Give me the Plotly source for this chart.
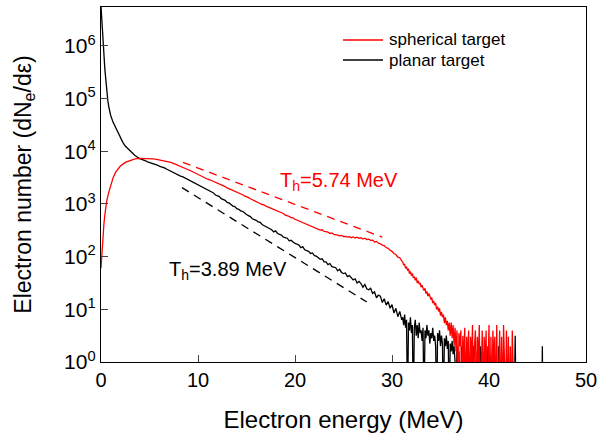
import numpy as np
import plotly.graph_objects as go

# ---------------- data (log10 of electron number) -------------
# planar target (black)
black_head_x = [0.0, 0.1, 0.2, 0.3, 0.4, 0.5, 0.6, 0.7, 0.8, 1.0, 1.25, 1.5, 1.75, 2.0,
                2.25, 2.5, 3.0, 3.5, 4.0]
black_head_lg = [6.75, 6.5, 6.25, 5.85, 5.55, 5.3, 5.12, 4.97, 4.85, 4.68, 4.55, 4.45, 4.35,
                 4.25, 4.17, 4.1, 4.0, 3.92, 3.86]
black_mid_start, black_mid_step = 4.2, 0.2
black_mid_lg = [
    3.85, 3.83, 3.82, 3.80, 3.79, 3.78, 3.76, 3.75, 3.74, 3.72,
    3.71, 3.69, 3.68, 3.66, 3.64, 3.62, 3.61, 3.59, 3.57, 3.55,
    3.53, 3.52, 3.50, 3.48, 3.46, 3.45, 3.42, 3.41, 3.39, 3.36,
    3.35, 3.33, 3.30, 3.29, 3.27, 3.24, 3.23, 3.21, 3.17, 3.16,
    3.14, 3.10, 3.09, 3.07, 3.03, 3.02, 2.99, 2.96, 2.95, 2.91,
    2.90, 2.87, 2.86, 2.82, 2.80, 2.78, 2.76, 2.72, 2.71, 2.69,
    2.66, 2.65, 2.61, 2.59, 2.58, 2.55, 2.54, 2.51, 2.47, 2.49,
    2.44, 2.42, 2.41, 2.37, 2.36, 2.35, 2.30, 2.31, 2.28, 2.25,
    2.24, 2.22, 2.17, 2.19, 2.13, 2.12, 2.10, 2.06, 2.07, 2.02,
    2.01, 1.98, 1.95, 1.96, 1.90, 1.90, 1.85, 1.87, 1.81, 1.80,
    1.79, 1.73, 1.76, 1.70, 1.68, 1.69, 1.62, 1.64, 1.59, 1.56,
    1.58, 1.50, 1.53, 1.49, 1.42, 1.47, 1.39, 1.37, 1.40, 1.30,
    1.33, 1.22, 1.27, 1.25, 1.13, 1.20, 1.08, 1.15, 1.02, 1.09,
    0.93, 1.02, 0.86, 0.96, 0.80,
]
black_tail_start, black_tail_step = 31.1, 0.1
black_tail_lg = [
    0.85, 0.7, 0.9, 0.65, 0.8, -1, 0.75, 0.6, 0.85, 0.55,
    0.7, -1, 0.65, 0.8, 0.5, 0.7, 0.45, 0.75, 0.55, 0.6,
    0.4, 0.65, -1, 0.6, 0.45, 0.7, 0.5, 0.6, 0.35, 0.55,
    0.45, 0.65, 0.4, 0.5, 0.3, -1, 0.55, 0.4, 0.6, 0.3,
    0.5, 0.35, -1, 0.45, 0.3, 0.5, 0.25, 0.4, -1, 0.35,
    0.2, 0.4, 0.15, 0.3, 0.0, -1, 0.3, 0.0, 0.2, -1,
    0.0, 0.3, -1, 0.0, 0.2, -1, 0.3, 0.0, -1, 0.0,
    0.2, -1, 0.0, 0.3, -1, 0.0, -1, 0.2, 0.0, -1,
    0.3, -1, 0.0, -1, 0.2, 0.0, -1, 0.0, 0.3, -1,
    0.0, -1, 0.0, 0.2, -1, 0.0, -1, 0.0, -1, 0.3,
    -1, 0.0, -1, 0.0, 0.2, -1, 0.0, -1, 0.0, -1,
    0.0, -1, 0.0, -1, 0.0, -1, 0.5, -1, -1, -1,
]
black_spike_x = [45.45, 45.5, 45.55]
black_spike_lg = [-1, 0.3, -1]

# spherical target (red)
red_head_x = [0.0, 0.1, 0.2, 0.3, 0.4, 0.5, 0.6, 0.8, 1.0, 1.25, 1.5, 1.75, 2.0, 2.5,
              3.0, 3.5, 4.0]
red_head_lg = [1.78, 2.15, 2.4, 2.62, 2.8, 2.95, 3.07, 3.22, 3.36, 3.5, 3.6, 3.67, 3.72,
               3.79, 3.83, 3.855, 3.865]
red_mid_start, red_mid_step = 4.2, 0.2
red_mid_lg = [
    3.866, 3.867, 3.867, 3.866, 3.865, 3.862, 3.858, 3.853, 3.847, 3.84,
    3.833, 3.826, 3.818, 3.81, 3.80, 3.79, 3.777, 3.763, 3.747, 3.73,
    3.716, 3.70, 3.683, 3.67, 3.65,
    3.635, 3.615, 3.60, 3.58, 3.56,
    3.545, 3.525, 3.51, 3.49, 3.47,
    3.46, 3.445, 3.425, 3.405, 3.39,
    3.375, 3.36, 3.34, 3.33, 3.305,
    3.29, 3.28, 3.26, 3.235, 3.225,
    3.21, 3.19, 3.175, 3.155, 3.13,
    3.12, 3.10, 3.085, 3.06, 3.05,
    3.03, 3.01, 2.99, 2.985, 2.96,
    2.945, 2.925, 2.91, 2.89, 2.885,
    2.86, 2.85, 2.825, 2.82, 2.79,
    2.78, 2.765, 2.74, 2.735, 2.71,
    2.695, 2.685, 2.655, 2.65, 2.625,
    2.62, 2.60, 2.58, 2.575, 2.55,
    2.545, 2.53, 2.505, 2.51, 2.48,
    2.475, 2.465, 2.44, 2.45, 2.425,
    2.42, 2.41, 2.395, 2.405, 2.38,
    2.385, 2.37, 2.38, 2.36, 2.375,
    2.355, 2.37, 2.35, 2.36, 2.335,
    2.35, 2.325, 2.33, 2.31, 2.315,
    2.28, 2.29, 2.255, 2.245, 2.22,
    2.21, 2.17, 2.16, 2.12, 2.10,
    2.06, 2.04, 1.99, 1.98, 1.92,
]
red_tail_start, red_tail_step = 31.1, 0.1
red_tail_lg = [
    1.90, 1.84, 1.86, 1.78, 1.80, 1.75, 1.77, 1.68, 1.72, 1.64,
    1.68, 1.60, 1.62, 1.55, 1.60, 1.50, 1.54, 1.48, 1.50, 1.42,
    1.46, 1.40, 1.36, 1.40, 1.30, 1.34, 1.25, 1.30, 1.22, 1.20,
    1.22, 1.12, 1.16, 1.08, 1.12, 1.0, 1.05, 0.96, 1.02, 0.88,
    0.95, 0.85, 0.9, 0.74, 0.85, 0.7, 0.78, 0.6, 0.75, 0.5,
    0.75, 0.45, 0.7, 0.3, 0.65, 0.2, 0.6, -1, 0.55, 0.3,
    0.6, -1, 0.5, 0.0, 0.65, -1, 0.48, 0.0, 0.6, -1,
    0.48, 0.0, 0.7, -1, 0.3, 0.6, -1, 0.48, 0.0, 0.7,
    -1, 0.3, 0.6, -1, 0.48, 0.0, 0.6, -1, 0.3, 0.7,
    -1, 0.48, -1, 0.6, 0.0, 0.48, -1, 0.7, -1, 0.3,
    0.6, -1, 0.48, -1, 0.7, 0.0, -1, 0.6, -1, 0.48,
    -1, 0.3, -1, 0.6, -1, -1, -1, -1, -1, -1,
]

# exponential fit guide lines (end points)
red_fit_x = [8.45, 29.0]
red_fit_lg = [3.79, 2.37]
black_fit_x = [8.35, 27.4]
black_fit_lg = [3.31, 1.14]

legend_names = ["spherical target", "planar target"]
legend_colors = ["#ff0000", "black"]
x_ticks = [0, 10, 20, 30, 40, 50]
y_exps = [0, 1, 2, 3, 4, 5, 6]


# ---------------- build series ----------------
def grid(start, step, n):
    return list(np.round(start + step * np.arange(n), 3))


def series(head_x, head_lg, mid_s, mid_d, mid_lg, tail_s, tail_d, tail_lg):
    xs = list(head_x) + grid(mid_s, mid_d, len(mid_lg)) + grid(tail_s, tail_d, len(tail_lg))
    ls = list(head_lg) + list(mid_lg) + list(tail_lg)
    return xs, [10 ** v for v in ls]


bx, by = series(black_head_x, black_head_lg, black_mid_start, black_mid_step, black_mid_lg,
                black_tail_start, black_tail_step, black_tail_lg)
bx = bx + [None] + black_spike_x
by = by + [None] + [10 ** v for v in black_spike_lg]

rx, ry = series(red_head_x, red_head_lg, red_mid_start, red_mid_step, red_mid_lg,
                red_tail_start, red_tail_step, red_tail_lg)

font = "Liberation Sans, Arial, sans-serif"

# plot area in pixels
L, T, W, H = 101, 7, 485, 355


def px_x(p):
    return (p - L) / W


def px_y(p):
    return 1 - (p - T) / H


fig = go.Figure()
fig.add_trace(go.Scatter(x=bx, y=by, mode="lines", name=legend_names[1], showlegend=False,
                         line=dict(color="black", width=1.3), connectgaps=False))
fig.add_trace(go.Scatter(x=rx, y=ry, mode="lines", name=legend_names[0], showlegend=False,
                         line=dict(color="#ff0000", width=1.3)))
fig.add_trace(go.Scatter(x=red_fit_x, y=[10 ** v for v in red_fit_lg], mode="lines",
                         showlegend=False,
                         line=dict(color="#ff0000", width=1.3, dash="8px,6px")))
fig.add_trace(go.Scatter(x=black_fit_x, y=[10 ** v for v in black_fit_lg], mode="lines",
                         showlegend=False,
                         line=dict(color="black", width=1.3, dash="8px,6px")))

fig.add_annotation(x=24.5, y=3.43, yref="y", xref="x", text="T<sub>h</sub>=5.74 MeV",
                   showarrow=False, font=dict(family=font, size=20, color="#ff0000"))
fig.add_annotation(x=13.1, y=1.74, yref="y", xref="x", text="T<sub>h</sub>=3.89 MeV",
                   showarrow=False, font=dict(family=font, size=20, color="black"))

# legend (line samples + labels)
for i, (name, col) in enumerate(zip(legend_names, legend_colors)):
    yy = px_y(40 + 20 * i)
    fig.add_shape(type="line", xref="paper", yref="paper", x0=px_x(343), x1=px_x(383),
                  y0=yy, y1=yy, line=dict(color=col, width=1.3))
    fig.add_annotation(xref="paper", yref="paper", x=px_x(387), y=yy, text=name,
                       xanchor="left", yanchor="middle", showarrow=False,
                       font=dict(family=font, size=17, color="black"))

fig.update_layout(
    width=597, height=435,
    margin=dict(l=L, r=597 - L - W, t=T, b=435 - T - H, autoexpand=False),
    paper_bgcolor="white", plot_bgcolor="white",
    font=dict(family=font, color="black"),
    showlegend=False,
    xaxis=dict(range=[0, 50], tickvals=x_ticks, ticks="inside", ticklen=7, tickwidth=1.3,
               showline=True, linecolor="black", linewidth=1.3, mirror=True,
               showgrid=False, zeroline=False, ticklabeloverflow="allow", automargin=False,
               tickfont=dict(family=font, size=20),
               title=dict(text="Electron energy (MeV)", font=dict(family=font, size=24),
                          standoff=21)),
    yaxis=dict(type="log", range=[0, 6.74], tickvals=[10 ** e for e in y_exps],
               ticktext=[f"10<sup>{e}</sup>" for e in y_exps],
               ticks="inside", ticklen=7, tickwidth=1.3,
               showline=True, linecolor="black", linewidth=1.3, mirror=True,
               showgrid=False, zeroline=False, ticklabeloverflow="allow", automargin=False,
               tickfont=dict(family=font, size=21),
               title=dict(text="Electron number (dN<sub>e</sub>/dε)",
                          font=dict(family=font, size=23), standoff=26)),
)

fig.write_html("out.html")
